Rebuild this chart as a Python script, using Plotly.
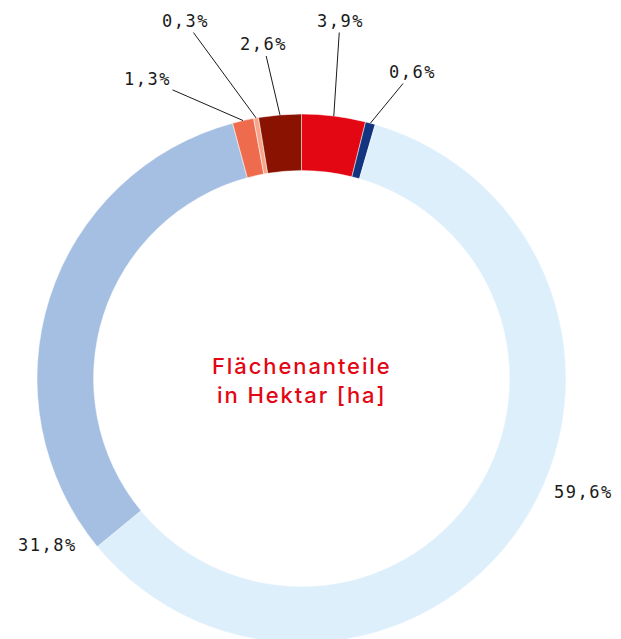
import math
import plotly.graph_objects as go

# ---- data ----
categories = ["Kategorie A", "Kategorie B", "Kategorie C", "Kategorie D",
              "Kategorie E", "Kategorie F", "Kategorie G"]
values = [3.9, 0.6, 59.6, 31.8, 1.3, 0.3, 2.6]
center_title_lines = ["Flächenanteile", "in Hektar [ha]"]

# ---- styles ----
colors = ["#E30613", "#13357F", "#DEEFFC", "#A5BFE3", "#EE6C4D", "#F5A58A", "#8A1200"]
# label text centres (window pixels) and whether a leader line is drawn
label_layout = [
    (340, 21, True),
    (412.5, 72, True),
    (583, 492, False),
    (47, 545, False),
    (147.5, 79, True),
    (185, 21, True),
    (263.5, 44.5, True),
]

OFF = 8  # page body margin
W, H = 621 - OFF, 692
ML, MR, MT, MB = 37 - OFF, 55, 114 - OFF, 57
PW, PH = W - ML - MR, H - MT - MB
R = min(PW, PH) / 2
CX, CY = ML + PW / 2, MT + PH / 2

label_font = dict(family="DejaVu Sans Mono", size=17, color="#1a1a1a")


def spaced(s, px):
    return f'<span style="letter-spacing:{px}px">{s}</span>'


def fmt(v):
    return spaced(f"{v:.1f}".replace(".", ",") + "%", 1.5)


fig = go.Figure(go.Pie(
    labels=categories,
    values=values,
    marker=dict(colors=colors, line=dict(color="white", width=0.5)),
    hole=0.786,
    sort=False,
    direction="clockwise",
    rotation=0,
    textinfo="none",
    hoverinfo="label+percent",
    domain=dict(x=[0, 1], y=[0, 1]),
))

total = sum(values)
cum = 0.0
annotations = []
for v, (tx, ty, line) in zip(values, label_layout):
    mid = (cum + v / 2) / total * 2 * math.pi
    cum += v
    tx -= OFF
    ty -= OFF
    if line:
        apx = CX + R * math.sin(mid)
        apy = CY - R * math.cos(mid)
        annotations.append(dict(
            x=(apx - ML) / PW, y=1 - (apy - MT) / PH,
            xref="paper", yref="paper",
            ax=tx - apx, ay=ty - apy,
            showarrow=True, arrowhead=0, arrowwidth=1, arrowcolor="#1a1a1a",
            standoff=0, startstandoff=0,
            text=fmt(v), font=label_font,
        ))
    else:
        annotations.append(dict(
            x=(tx - ML) / PW, y=1 - (ty - MT) / PH,
            xref="paper", yref="paper",
            xanchor="center", yanchor="middle",
            showarrow=False, text=fmt(v), font=label_font,
        ))

annotations.append(dict(
    x=0.5, y=0.5, xref="paper", yref="paper",
    xanchor="center", yanchor="middle", showarrow=False, yshift=-2,
    text="<br>".join(spaced(s, 1.9) for s in center_title_lines),
    font=dict(family="Inter", size=22, color="#E30613", weight=500),
))

fig.update_layout(
    width=W, height=H,
    margin=dict(l=ML, r=MR, t=MT, b=MB, pad=0),
    showlegend=False,
    paper_bgcolor="white",
    plot_bgcolor="white",
    annotations=annotations,
)

fig.write_html("out.html")
